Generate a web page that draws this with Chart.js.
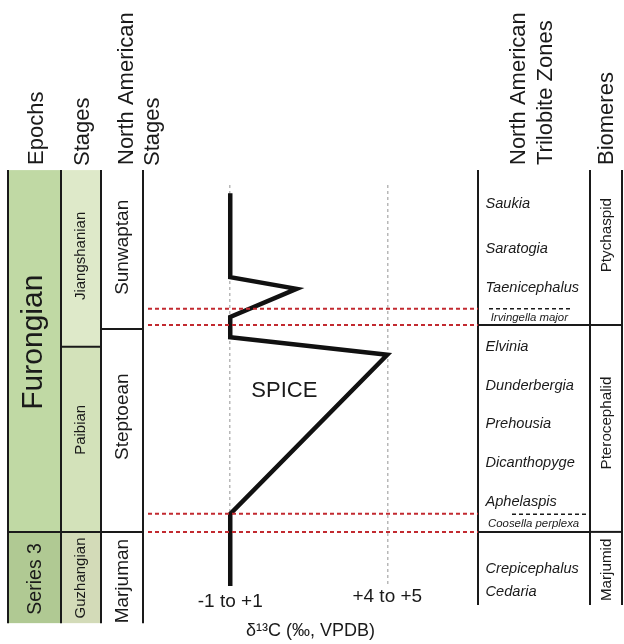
<!DOCTYPE html>
<html>
<head>
<meta charset="utf-8">
<title>SPICE carbon isotope excursion</title>
<script src="https://cdn.jsdelivr.net/npm/chart.js@4"></script>
<style>
  html, body { margin: 0; padding: 0; background: #fff; }
</style>
</head>
<body>
<canvas id="myChart" width="624" height="644"></canvas>
<script>
'use strict';

//========== Data ==========
// levels are relative stratigraphic height: 0 = base of column, 100 = top
const epochs = ['Furongian', 'Series 3'];
const epochBase = [20.2, 0];
const epochLabelAt = [62.2, 9.8];

const stages = ['Jiangshanian', 'Paibian', 'Guzhangian'];
const stageBase = [61.2, 20.2, 0];
const stageLabelAt = [81.3, 42.8, 10.0];

const naStages = ['Sunwaptan', 'Steptoean', 'Marjuman'];
const naStageBase = [65.1, 20.2, 0];
const naStageLabelAt = [83.2, 45.7, 9.3];

const zones = ['Saukia', 'Saratogia', 'Taenicephalus', 'Irvingella major', 'Elvinia', 'Dunderbergia',
  'Prehousia', 'Dicanthopyge', 'Aphelaspis', 'Coosella perplexa', 'Crepicephalus', 'Cedaria'];
const zoneAt = [92.8, 82.8, 74.3, 67.6, 61.2, 52.5, 44.1, 35.4, 26.8, 21.9, 12.0, 7.0];
const minorZones = ['Irvingella major', 'Coosella perplexa'];
const minorZoneTop = [69.6, 24.1];

const biomeres = ['Ptychaspid', 'Pterocephalid', 'Marjumid'];
const biomereBase = [66.0, 20.2, 4.0];
const biomereLabelAt = [85.9, 44.3, 11.8];

// d13C curve
const d13C = [0, 0, 1.9, 0, 0, 4.5, 0, 0];
const curveLevel = [95.2, 76.6, 74.0, 67.8, 63.3, 59.4, 24.2, 8.2];

const tickVals = [0, 4.5];
const tickLabels = ['-1 to +1', '+4 to +5'];

// red dashed limits of the SPICE interval
const redLevels = [69.6, 66.0, 24.2, 20.2];

//========== Styles ==========
const FAMILY = '"Liberation Sans", Arial, Helvetica, sans-serif';
const INK = '#1a1a1a';
const colTop = 100.3;

function font(size, style) {
  return (style ? style + ' ' : '') + size + 'px ' + FAMILY;
}

function vText(ctx, text, x, y, f, align) {
  ctx.save();
  ctx.translate(x, y);
  ctx.rotate(-Math.PI / 2);
  ctx.font = f;
  ctx.fillStyle = INK;
  ctx.textAlign = align;
  ctx.textBaseline = 'alphabetic';
  ctx.fillText(text, 0, 0);
  ctx.restore();
}

function hLine(ctx, x0, x1, py) {
  ctx.beginPath();
  ctx.moveTo(x0, py);
  ctx.lineTo(x1, py);
  ctx.stroke();
}

// one column of stacked boxes
function drawColumn(ctx, y, x0, x1, bases, fills) {
  let top = colTop;
  bases.forEach((b, i) => {
    if (fills) {
      let py0 = y.getPixelForValue(top);
      let py1 = y.getPixelForValue(b);
      ctx.fillStyle = fills[i];
      ctx.fillRect(x0, py0, x1 - x0, py1 - py0);
    }
    top = b;
  });
  ctx.strokeStyle = INK;
  ctx.lineWidth = 2;
  ctx.setLineDash([]);
  for (let i = 0; i < bases.length - 1; i++) {
    hLine(ctx, x0, x1, y.getPixelForValue(bases[i]));
  }
}

function vLine(ctx, x, y, from, to) {
  ctx.beginPath();
  ctx.moveTo(x, y.getPixelForValue(from));
  ctx.lineTo(x, y.getPixelForValue(to));
  ctx.stroke();
}

//========== Plugin for the stratigraphic columns ==========
const stratPlugin = {
  id: 'strat',
  beforeDatasetsDraw(chart) {
    const ctx = chart.ctx;
    const y = chart.scales.y;
    const x = chart.scales.x;
    ctx.save();

    drawColumn(ctx, y, 8, 61, epochBase, ['#c0d9a4', '#b0c993']);
    drawColumn(ctx, y, 61, 101, stageBase, ['#dee9c9', '#d3e2ba', '#d3dbb8']);
    drawColumn(ctx, y, 101, 143, naStageBase, null);
    drawColumn(ctx, y, 478, 590, biomereBase, null);
    drawColumn(ctx, y, 590, 622, biomereBase, null);

    ctx.strokeStyle = INK;
    ctx.lineWidth = 2;
    [8, 61, 101, 143].forEach(px => vLine(ctx, px, y, colTop, 0));
    [478, 590, 622].forEach(px => vLine(ctx, px, y, colTop, 4.0));

    // dashed minor zone boundaries
    ctx.lineWidth = 1.6;
    ctx.setLineDash([4, 3]);
    hLine(ctx, 489, 573, y.getPixelForValue(minorZoneTop[0]));
    hLine(ctx, 512, 589, y.getPixelForValue(minorZoneTop[1]));
    ctx.setLineDash([]);

    // headers
    vText(ctx, 'Epochs', 42.5, 165, font(22), 'left');
    vText(ctx, 'Stages', 89, 166, font(22), 'left');
    vText(ctx, 'North American', 132.5, 165, font(22), 'left');
    vText(ctx, 'Stages', 159, 166, font(22), 'left');
    vText(ctx, 'North American', 525, 165, font(22), 'left');
    vText(ctx, 'Trilobite Zones', 552, 165, font(22), 'left');
    vText(ctx, 'Biomeres', 612.5, 165, font(22), 'left');

    // column labels
    vText(ctx, epochs[0], 41.7, y.getPixelForValue(epochLabelAt[0]), font(30), 'center');
    vText(ctx, epochs[1], 40.5, y.getPixelForValue(epochLabelAt[1]), font(19.5), 'center');
    stages.forEach((s, i) => vText(ctx, s, 84.5, y.getPixelForValue(stageLabelAt[i]), font(15), 'center'));
    naStages.forEach((s, i) => vText(ctx, s, 127.7, y.getPixelForValue(naStageLabelAt[i]), font(19), 'center'));
    biomeres.forEach((s, i) => vText(ctx, s, 611, y.getPixelForValue(biomereLabelAt[i]), font(15.2), 'center'));

    // trilobite zones
    ctx.fillStyle = INK;
    ctx.textAlign = 'left';
    ctx.textBaseline = 'middle';
    zones.forEach((z, i) => {
      let minor = minorZones.includes(z);
      ctx.font = font(minor ? 11.4 : 14.6, 'italic');
      ctx.fillText(z, minor ? (i < 5 ? 490.7 : 488) : 485.5, y.getPixelForValue(zoneAt[i]));
    });

    // SPICE label
    ctx.font = font(22);
    ctx.textAlign = 'center';
    ctx.fillText('SPICE', x.getPixelForValue(1.55), y.getPixelForValue(51.4));
    ctx.restore();
  },
  afterDatasetsDraw(chart) {
    const ctx = chart.ctx;
    const y = chart.scales.y;
    ctx.save();
    ctx.strokeStyle = '#c22a30';
    ctx.lineWidth = 2;
    ctx.setLineDash([4, 3]);
    redLevels.forEach(l => hLine(ctx, 148, chart.chartArea.right, y.getPixelForValue(l)));
    ctx.restore();
  }
};

//========== Chart ==========
let ctx = document.getElementById('myChart').getContext('2d');

let myChart = new Chart(ctx, {
  type: 'scatter',
  data: {
    datasets: [{
      data: d13C.map((v, i) => ({ x: v, y: curveLevel[i] })),
      showLine: true,
      borderColor: '#111',
      borderWidth: 4.5,
      borderJoinStyle: 'miter',
      pointRadius: 0,
      tension: 0
    }]
  },
  options: {
    responsive: false,
    animation: false,
    layout: { padding: { top: 185, left: 143, right: 146, bottom: 0 } },
    plugins: {
      legend: { display: false },
      tooltip: { enabled: false }
    },
    scales: {
      x: {
        type: 'linear',
        min: -2.5,
        max: 7.1,
        afterBuildTicks: s => { s.ticks = tickVals.map(v => ({ value: v })); },
        afterFit: s => { s.height = 57; },
        grid: { color: '#b8b8b8', lineWidth: 1.5, drawTicks: false },
        border: { display: false, dash: [3, 3] },
        ticks: {
          padding: 0,
          color: INK,
          autoSkip: false,
          maxRotation: 0,
          callback: (v, i) => tickLabels[i],
          font: c => ({ family: FAMILY, size: 19, lineHeight: c.index === 0 ? 1.58 : 1 })
        },
        title: {
          display: true,
          text: 'δ¹³C (‰, VPDB)',
          color: INK,
          font: { family: FAMILY, size: 18 },
          padding: { top: 0, bottom: 2 }
        }
      },
      y: { type: 'linear', display: false, min: 8, max: 97 }
    }
  },
  plugins: [stratPlugin]
});
</script>
</body>
</html>
